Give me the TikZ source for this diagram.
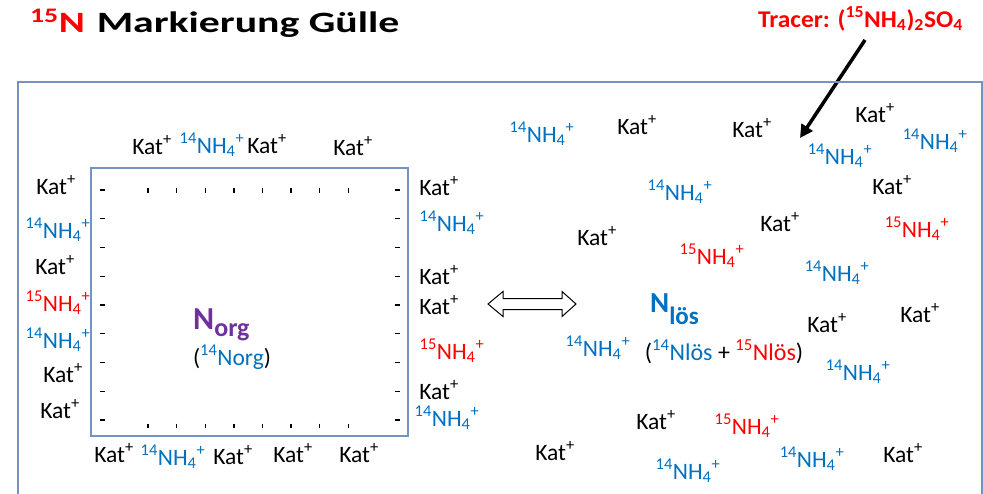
\documentclass[tikz,border=0pt]{standalone}
\usepackage{fontspec}
\setmainfont{Carlito}
\usetikzlibrary{arrows.meta}
\definecolor{nblue}{HTML}{0070C0}
\definecolor{nred}{HTML}{FF0000}
\definecolor{npurple}{HTML}{7030A0}
\definecolor{framecol}{HTML}{7394C0}
% ion labels
\newcommand\ionk{Kat\textsuperscript{+}}
\newcommand\ionb{\textcolor{nblue}{\textsuperscript{14}NH\textsubscript{4}\textsuperscript{+}}}
\newcommand\ionr{\textcolor{nred}{\textsuperscript{15}NH\textsubscript{4}\textsuperscript{+}}}
\tikzset{
  ion/.style={font=\fontsize{23.5}{28}\selectfont, inner sep=0pt, anchor=base},
  framebox/.style={draw=framecol, line width=1.3pt},
  charge/.style={line width=1.4pt, black},
}
\begin{document}
\begin{tikzpicture}[x=1pt,y=-1pt]
\useasboundingbox (0,0) rectangle (983,493);
\clip (0,0) rectangle (983,493);

% title
\node[anchor=base west, inner sep=0pt, font=\fontsize{29.5}{36}\selectfont\bfseries] (title) at (30,32)
  {\scalebox{1.34}[1]{\textcolor{nred}{\textsuperscript{15}N}}\hspace{0.4em}\scalebox{1.415}[1]{Markierung Gülle}};

% tracer label and its arrow
\node[anchor=base east, inner sep=0pt, text=nred, font=\fontsize{24}{28}\selectfont\bfseries] (tracer) at (963,27)
  {\scalebox{1.06}[1]{Tracer: (\textsuperscript{15}NH\textsubscript{4})\textsubscript{2}SO\textsubscript{4}}};
\coordinate (tstart) at (865,40);
\coordinate (tend) at (800,138);
\draw[line width=3.5pt, -{Triangle[length=13pt,width=13pt]}] (tstart) -- (tend);

% outer frame (open at the bottom)
\coordinate (fbl) at (18,560);
\coordinate (ftl) at (18,82);
\coordinate (ftr) at (982,82);
\coordinate (fbr) at (982,560);
\draw[framebox] (fbl) -- (ftl) -- (ftr) -- (fbr);

% organic N particle
\node[framebox, minimum width=317pt, minimum height=268pt, inner sep=0pt] (norgbox) at (249.5,302) {};

% negative charges along the particle surface
\foreach \i in {0,...,8} {
  \draw[charge] (100,190+28.75*\i) -- (105,190+28.75*\i);
  \draw[charge] (394.5,190+28.75*\i) -- (399.5,190+28.75*\i);
}
\foreach \i in {0,...,7} {
  \draw[charge] (148+28.6*\i,188) -- (148+28.6*\i,192.5);
  \draw[charge] (148+28.6*\i,423.5) -- (148+28.6*\i,428);
}

% N_org label
\node[anchor=base west, inner sep=0pt, text=npurple] (norg) at (193,329)
  {\fontsize{32}{36}\selectfont\bfseries N\raisebox{-7pt}{\fontsize{26}{30}\selectfont org}};
\node[anchor=base, inner sep=0pt, font=\fontsize{23.5}{28}\selectfont] (norgsub) at (232,365)
  {(\textcolor{nblue}{\textsuperscript{14}Norg})};

% exchange arrow
\draw[line width=1pt, fill=white] (488,304) -- (503,291.5) -- (503,298.5) -- (562,298.5) -- (562,291.5)
  -- (576,304) -- (562,316.5) -- (562,309.5) -- (503,309.5) -- (503,316.5) -- cycle;

% N_loes label
\node[anchor=base west, inner sep=0pt, text=nblue] (nloes) at (650,312)
  {\fontsize{29}{34}\selectfont\bfseries N\raisebox{-12pt}{\fontsize{25}{30}\selectfont lös}};
\node[anchor=base, inner sep=0pt, font=\fontsize{24}{28}\selectfont] (nloessub) at (724,360)
  {(\textcolor{nblue}{\textsuperscript{14}Nlös} + \textcolor{nred}{\textsuperscript{15}Nlös})};

% cations and ammonium ions
\foreach \x/\y/\t [count=\i] in {
  152/147/k, 212/146/b, 267/146/k, 353/148/k,
  56/187/k, 58/231/b, 55/267/k, 58/304/r, 58/341/b, 63/375/k, 60/411/k,
  439/188/k, 452/224/b, 439/277/k, 439/307/k, 452/352/r, 439/392/k, 447/419/b,
  114/455/k, 173/458/b, 233/457/k, 293/455/k, 359/455/k,
  542/135/b, 637/127/k, 752/130/k, 875/115/k, 935/142/b, 840/157/b, 892/187/k,
  680/193/b, 780/224/k, 917/230/r, 597/238/k, 712/257/r, 837/274/b, 920/315/k,
  827/325/k, 858/373/b, 598/349/b, 656/422/k, 747/427/r, 555/453/k, 688/472/b,
  812/460/b, 903/455/k}
  \node[ion] (ion\i) at (\x,\y+7) {\csname ion\t\endcsname};
\end{tikzpicture}
\end{document}
